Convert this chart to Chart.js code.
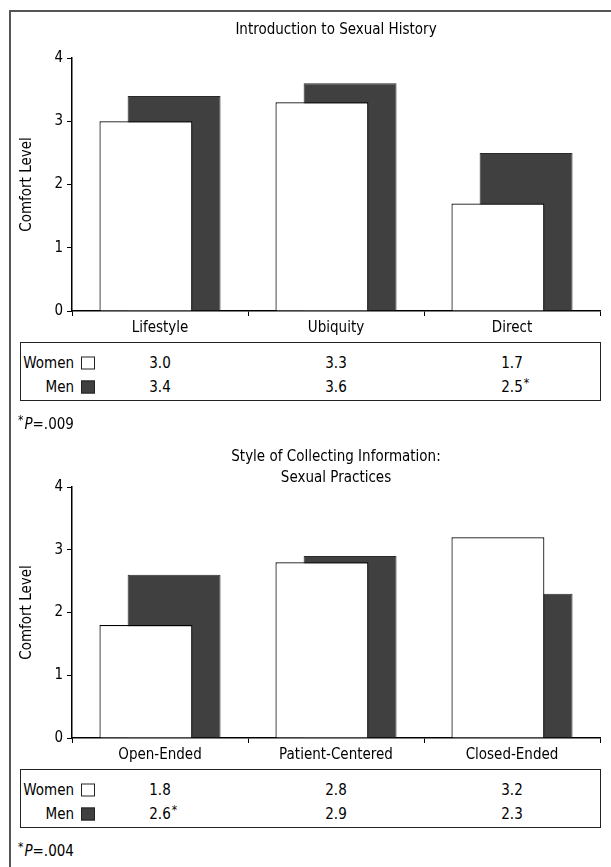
<!DOCTYPE html>
<html>
<head>
<meta charset="utf-8">
<script src="https://cdn.jsdelivr.net/npm/chart.js@4.4.1/dist/chart.umd.min.js"></script>
<style>
  html, body { margin: 0; padding: 0; background: #fff; }
  body { width: 611px; height: 867px; position: relative; overflow: hidden;
         font-family: 'Liberation Sans Narrow', 'Arial Narrow', 'Nimbus Sans Narrow', 'DejaVu Sans Condensed', sans-serif;
         font-size: 15px; color: #000; }
  .frame-top { position: absolute; left: 9px; top: 10px; width: 602px; height: 2px; background: #555; }
  .frame-left { position: absolute; left: 9px; top: 10px; width: 2px; height: 857px; background: #555; }
  canvas { position: absolute; left: 0; }
  .box { position: absolute; border: 1px solid #222; box-sizing: border-box; }
  .t { position: absolute; white-space: nowrap; line-height: 1; }
  .c { transform: translate(-50%, -50%); }
  .r { transform: translate(-100%, -50%); }
  .l { transform: translate(0, -50%); }
  .sw { position: absolute; width: 14px; height: 13px; box-sizing: border-box; border: 1px solid #222; transform: translate(0, -50%); }
  .ast { position: absolute; left: 100%; top: -3px; font-size: 12px; padding-left: 1px; }
  .sup { font-size: 12px; position: relative; top: -5px; margin-right: 1px; }
</style>
</head>
<body>
<div class="frame-top"></div>
<div class="frame-left"></div>
<canvas id="c1" width="611" height="341" style="top:0px"></canvas>
<canvas id="c2" width="611" height="341" style="top:427px"></canvas>
<script>
// ---------- DATA ----------
const yTickValues = [0, 1, 2, 3, 4];
const seriesNames = ['Women', 'Men'];

const title1 = 'Introduction to Sexual History';
const categories1 = ['Lifestyle', 'Ubiquity', 'Direct'];
const women1 = [3.0, 3.3, 1.7];
const men1 = [3.4, 3.6, 2.5];
const womenSig1 = [false, false, false];
const menSig1 = [false, false, true];
const pValue1 = '.009';

const title2 = ['Style of Collecting Information:', 'Sexual Practices'];
const categories2 = ['Open-Ended', 'Patient-Centered', 'Closed-Ended'];
const women2 = [1.8, 2.8, 3.2];
const men2 = [2.6, 2.9, 2.3];
const womenSig2 = [false, false, false];
const menSig2 = [true, false, false];
const pValue2 = '.004';

// ---------- STYLE ----------
const FONT = "'Liberation Sans Narrow', 'Arial Narrow', 'Nimbus Sans Narrow', 'DejaVu Sans Condensed', sans-serif";
const FS = 15;
const WOMEN_FILL = '#ffffff', WOMEN_EDGE = '#000000';
const MEN_FILL = '#404040', MEN_EDGE = '#2a2a2a';

Chart.defaults.color = '#000';
Chart.defaults.font.family = FONT;
Chart.defaults.font.size = FS;

function makeChart(canvas, title, titleLH, titlePad, categories, women, men) {
  return new Chart(canvas, {
    type: 'bar',
    data: {
      labels: categories,
      datasets: [
        { label: seriesNames[0], data: women, backgroundColor: WOMEN_FILL, borderColor: WOMEN_EDGE,
          borderWidth: 1.2, categoryPercentage: 0.32, barPercentage: 3.3 },
        { label: seriesNames[1], data: men, backgroundColor: MEN_FILL, borderColor: MEN_EDGE,
          borderWidth: 1, categoryPercentage: 0.32, barPercentage: 3.3 }
      ]
    },
    options: {
      responsive: false,
      animation: false,
      devicePixelRatio: 1,
      layout: { padding: { top: 0, left: 0, right: 11, bottom: 0 } },
      plugins: {
        legend: { display: false },
        tooltip: { enabled: false },
        title: {
          display: true, text: title, color: '#000', fullSize: false,
          font: { family: FONT, size: FS, weight: 'normal', lineHeight: titleLH },
          padding: titlePad
        }
      },
      scales: {
        x: {
          type: 'category',
          offset: true,
          grid: { display: true, drawOnChartArea: false, offset: true, tickLength: 5, color: '#000', lineWidth: 1 },
          border: { display: true, color: '#000', width: 1.5 },
          ticks: { padding: 3, color: '#000', font: { family: FONT, size: FS }, maxRotation: 0, autoSkip: false },
          afterFit: s => { s.height = 30; }
        },
        y: {
          min: 0, max: 4,
          afterBuildTicks: s => { s.ticks = yTickValues.map(v => ({ value: v })); },
          grid: { display: true, drawOnChartArea: false, tickLength: 5, color: '#000', lineWidth: 1 },
          border: { display: true, color: '#000', width: 1.5 },
          ticks: { padding: 4, color: '#000', font: { family: FONT, size: FS } },
          title: { display: true, text: 'Comfort Level', color: '#000',
                   font: { family: FONT, size: FS, lineHeight: 1.2 }, padding: { top: 18, bottom: 0 } },
          afterFit: s => { s.width = 72; }
        }
      }
    }
  });
}

const chart1 = makeChart(document.getElementById('c1'), title1, 1.2, { top: 21, bottom: 19 }, categories1, women1, men1);
const chart2 = makeChart(document.getElementById('c2'), title2, 1.4, { top: 19.5, bottom: -1.5 }, categories2, women2, men2);

function el(cls, html, x, y, parent) {
  const d = document.createElement('div');
  d.className = cls;
  d.innerHTML = html;
  d.style.left = x + 'px';
  d.style.top = y + 'px';
  (parent || document.body).appendChild(d);
  return d;
}

function buildTable(chart, canvasTop, women, men, womenSig, menSig, pValue) {
  const area = chart.chartArea;
  const xs = chart.scales.x;
  const base = canvasTop + area.bottom;          // y of the zero line
  const top = base + 31, bottom = base + 90;
  const rowW = base + 51.5, rowM = base + 76;
  const box = el('box', '', 20, top);
  box.style.width = (area.right - 20 + 1) + 'px';
  box.style.height = (bottom - top) + 'px';

  const rows = [[seriesNames[0], women, womenSig, WOMEN_FILL, rowW], [seriesNames[1], men, menSig, MEN_FILL, rowM]];
  rows.forEach(([name, vals, sig, fill, y]) => {
    el('t r', name, 74, y);
    const sw = el('sw', '', 81, y);
    sw.style.background = fill;
    vals.forEach((v, i) => {
      const cx = xs.getPixelForValue(i);
      el('t c', v.toFixed(1) + (sig[i] ? '<span class="ast">*</span>' : ''), cx, y);
    });
  });
  el('t l', '<span class="sup">*</span><i>P</i>=' + pValue, 18, base + 113);
}

buildTable(chart1, 0, women1, men1, womenSig1, menSig1, pValue1);
buildTable(chart2, 427, women2, men2, womenSig2, menSig2, pValue2);
</script>
</body>
</html>
